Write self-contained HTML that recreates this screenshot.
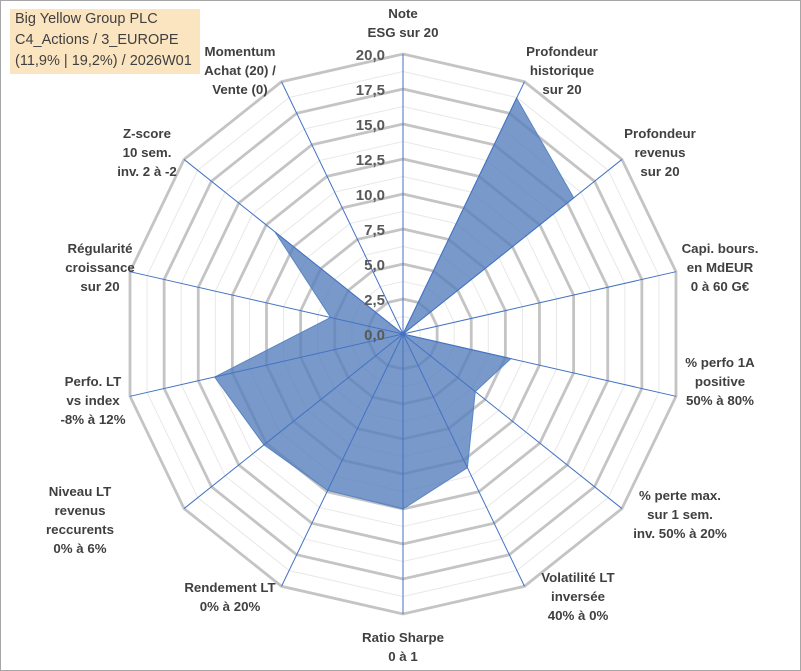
<!DOCTYPE html>
<html><head><meta charset="utf-8"><style>
body{margin:0;background:#fff;}
#wrap{position:relative;width:801px;height:671px;overflow:hidden;font-family:"Liberation Sans",sans-serif;}
.frame{position:absolute;left:0;top:0;width:799px;height:669px;border:1px solid #a6a6a6;}
.title{position:absolute;left:10px;top:9px;width:190px;height:65px;background:#fbe5c0;color:#404040;font-size:14.5px;line-height:21px;padding-left:5px;box-sizing:border-box;}
svg{position:absolute;left:0;top:0;}
</style></head><body>
<div id="wrap">
<div class="frame"></div>
<svg id="chart" width="801" height="671"></svg>
<div class="title">Big Yellow Group PLC<br>C4_Actions / 3_EUROPE<br>(11,9% | 19,2%) / 2026W01</div>
</div>
<script>
const categories=["Note|ESG sur 20","Profondeur|historique|sur 20","Profondeur|revenus|sur 20","Capi. bours.|en MdEUR|0 à 60 G€","% perfo 1A|positive|50% à 80%","% perte max.|sur 1 sem.|inv. 50% à 20%","Volatilité LT|inversée|40% à 0%","Ratio Sharpe|0 à 1","Rendement LT|0% à 20%","Niveau LT|revenus|reccurents|0% à 6%","Perfo. LT|vs index|-8% à 12%","Régularité|croissance|sur 20","Z-score|10 sem.|inv. 2 à -2","Momentum|Achat (20) /|Vente (0)"];
const values=[0,18.7,15.6,0,7.9,6.6,10.6,12.5,12.4,12.7,13.8,5.3,11.7,0];
const tickLabels=["0,0","2,5","5,0","7,5","10,0","12,5","15,0","17,5","20,0"];
const labelPos=[[403,18,"middle"],[562,56,"middle"],[660,138,"middle"],[720,253,"middle"],[720,367,"middle"],[680,500,"middle"],[578,582,"middle"],[403,642,"middle"],[230,592,"middle"],[80,496,"middle"],[93,386,"middle"],[100,253,"middle"],[147,138,"middle"],[240,56,"middle"]];
const cx=403,cy=334,R=280,maxV=20,N=categories.length;
const svg=document.getElementById('chart');
const NS="http://www.w3.org/2000/svg";
function ang(i){return i*2*Math.PI/N;}
function pt(i,v){const r=v/maxV*R;return [cx+r*Math.sin(ang(i)),cy-r*Math.cos(ang(i))];}
function mk(t,a){const e=document.createElementNS(NS,t);for(const k in a)e.setAttribute(k,a[k]);svg.appendChild(e);return e;}
for(let k=1;k<=16;k++){
 const v=k*1.25;const pts=[];for(let i=0;i<N;i++)pts.push(pt(i,v).join(','));
 const major=k%2===0;
 const e=mk('polygon',{points:pts.join(' '),fill:'none',stroke:major?'#c4c4c4':'#e8e8e8','stroke-width':major?2.8:1});
 
 
}
const sp=values.map((v,i)=>pt(i,v).join(',')).join(' ');
const poly=mk('polygon',{points:sp,fill:'#5680bd','fill-opacity':0.8,stroke:'#5a86c2','stroke-width':1});


for(let i=0;i<N;i++){
 const p=pt(i,maxV);
 const l=mk('line',{x1:cx,y1:cy,x2:p[0],y2:p[1],stroke:'#4472c4','stroke-width':1});
 
 
}
tickLabels.forEach((t,k)=>{
 const e=mk('text',{x:385,y:cy-k*2.5/maxV*R+6,'text-anchor':'end','font-size':15,'font-weight':'bold',fill:'#595959'});
 e.textContent=t;
 
 
});
categories.forEach((c,i)=>{
 const lines=c.split('|');const [x,y,a]=labelPos[i];
 const e=mk('text',{x:x,y:y,'text-anchor':a,'font-size':13.3,'font-weight':'bold',fill:'#404040'});
 lines.forEach((s,j)=>{const t=document.createElementNS(NS,'tspan');t.setAttribute('x',x);t.setAttribute('dy',j?19:0);t.textContent=s;e.appendChild(t);});
 
 
});
</script>
</body></html>
